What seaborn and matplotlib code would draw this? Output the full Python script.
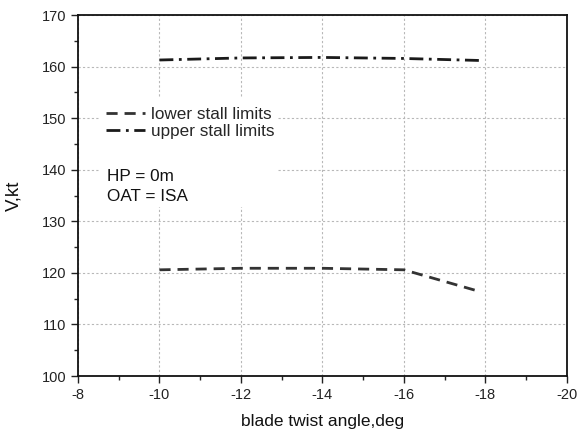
import matplotlib
matplotlib.use("Agg")
import matplotlib.pyplot as plt
import seaborn as sns
import pandas as pd
from matplotlib.ticker import MultipleLocator
from matplotlib.lines import Line2D
from matplotlib.patches import Rectangle

# data
twist_angle = [-10, -12, -14, -16, -17.9]
lower_stall = [120.6, 120.9, 120.9, 120.6, 116.3]
upper_stall = [161.3, 161.7, 161.8, 161.6, 161.2]
series_names = ["lower stall limits", "upper stall limits"]
x_ticks = [-8, -10, -12, -14, -16, -18, -20]
y_ticks = [100, 110, 120, 130, 140, 150, 160, 170]

df = pd.DataFrame({
    "x": twist_angle * 2,
    "y": lower_stall + upper_stall,
    "series": [series_names[0]] * len(lower_stall) + [series_names[1]] * len(upper_stall),
})

sns.set_style("white")
plt.rcParams['font.family'] = ['Liberation Sans', 'DejaVu Sans']

fig = plt.figure(figsize=(5.79, 4.33), dpi=100)
ax = fig.add_axes([0.1347, 0.1316, 0.979 - 0.1347, 0.965 - 0.1316])

sns.lineplot(data=df, x="x", y="y", hue="series", style="series",
             palette={series_names[0]: "#333333", series_names[1]: "#1a1a1a"},
             dashes={series_names[0]: (4, 2.5), series_names[1]: (5, 2, 1, 2)},
             linewidth=2, ax=ax, legend=False, sort=False)

ax.set_xlim(-8, -20)
ax.set_ylim(100, 170)
ax.set_xticks(x_ticks)
ax.set_xticklabels([str(v) for v in x_ticks])
ax.set_yticks(y_ticks)
ax.xaxis.set_minor_locator(MultipleLocator(1))
ax.yaxis.set_minor_locator(MultipleLocator(5))
ax.tick_params(axis="both", which="major", direction="out", length=5, width=1,
               labelsize=10.5, colors="#222222", bottom=True, left=True)
ax.tick_params(axis="both", which="minor", direction="out", length=3, width=1,
               bottom=True, left=True)
ax.grid(True, which="major", linestyle=(0, (2, 2)), color="#b8b8b8", linewidth=0.8)
ax.set_axisbelow(True)
for s in ax.spines.values():
    s.set_visible(True)
    s.set_color("#111111")
    s.set_linewidth(1.3)

ax.set_xlabel("blade twist angle,deg", fontsize=12.5, labelpad=9, color="#111111")
ax.set_ylabel("V,kt", fontsize=13.5, labelpad=14, color="#111111")

# white box behind legend and annotation (hides grid there)
ax.add_patch(Rectangle((0.045, 0.468), 0.362, 0.305, transform=ax.transAxes,
                       facecolor="white", edgecolor="none", zorder=1))

handles = [
    Line2D([], [], color="#333333", lw=2, dashes=(4, 2.5)),
    Line2D([], [], color="#1a1a1a", lw=2, dashes=(5, 2, 1, 2)),
]
leg = ax.legend(handles, series_names, loc="upper left", bbox_to_anchor=(0.047, 0.76),
                frameon=False, fontsize=12.3, handlelength=2.3, handletextpad=0.3,
                labelspacing=0.12, borderpad=0.3, borderaxespad=0)
leg.set_zorder(3)

ax.text(0.06, 0.575, "HP = 0m\nOAT = ISA", transform=ax.transAxes, fontsize=12.3,
        va="top", ha="left", linespacing=1.42, color="#111111", zorder=3)

fig.savefig("out.png", dpi=100, facecolor="white")
